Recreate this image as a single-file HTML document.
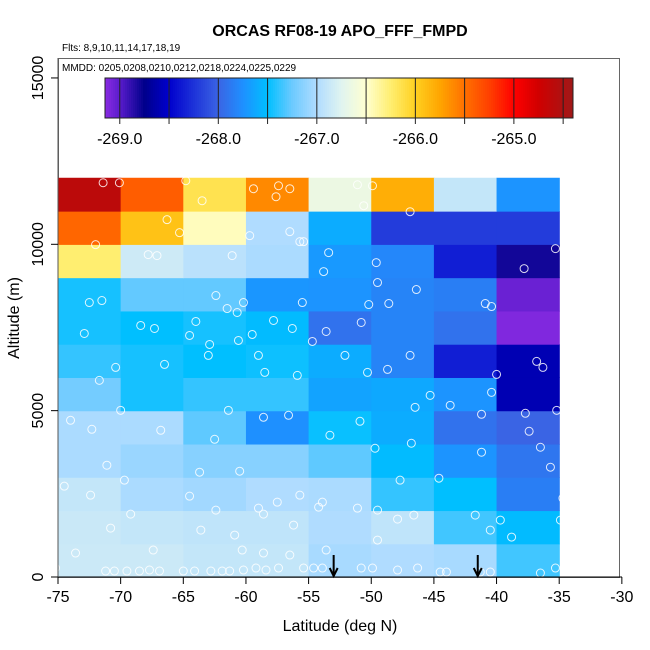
<!DOCTYPE html>
<html><head><meta charset="utf-8"><style>
html,body{margin:0;padding:0;background:#fff;}
svg{display:block;font-family:"Liberation Sans",sans-serif;}
</style></head><body>
<svg id="chart" width="650" height="650" viewBox="0 0 650 650" xmlns="http://www.w3.org/2000/svg">
<text x="340" y="36" text-anchor="middle" font-size="16" font-weight="bold">ORCAS RF08-19 APO_FFF_FMPD</text>
<text x="62" y="51" font-size="10">Flts: 8,9,10,11,14,17,18,19</text>
<rect x="58.5" y="58.5" width="561" height="519" fill="#fff" stroke="#666" stroke-width="1"/>
<g id="cells"></g>
<g id="pts"></g>
<text x="62" y="71" font-size="10">MMDD: 0205,0208,0210,0212,0218,0224,0225,0229</text>
<g id="cbar"></g>
<g id="axes"></g>
<text x="340" y="631" text-anchor="middle" font-size="16">Latitude (deg N)</text>
<text transform="translate(19,318) rotate(-90)" text-anchor="middle" font-size="16">Altitude (m)</text>
</svg>
<script>
const latEdges=[-75,-70,-65,-60,-55,-50,-45,-40,-35];
const altEdges=[0,1000,2000,3000,4000,5000,6000,7000,8000,9000,10000,11000,12000];
// rows from 0-1000m upward, 8 columns each
const cellValues=[
[-266.86,-266.86,-266.9,-266.9,-267.03,-267.0,-267.03,-267.35],
[-266.87,-266.9,-266.92,-266.92,-267.0,-266.92,-267.35,-267.52],
[-266.9,-267.02,-267.05,-267.0,-267.02,-267.38,-267.5,-267.85],
[-267.02,-267.08,-267.15,-267.15,-267.28,-267.52,-267.73,-267.9],
[-267.02,-267.02,-267.28,-267.75,-267.48,-267.6,-267.92,-268.0],
[-267.22,-267.45,-267.38,-267.38,-267.65,-267.62,-267.73,-268.6],
[-267.38,-267.45,-267.5,-267.47,-267.6,-267.82,-268.35,-268.6],
[-267.45,-267.5,-267.45,-267.52,-267.92,-267.82,-267.92,-269.12],
[-267.45,-267.27,-267.27,-267.72,-267.73,-267.82,-267.85,-269.05],
[-266.25,-266.85,-266.95,-267.02,-267.7,-267.8,-268.35,-268.8],
[-265.45,-265.92,-266.45,-267.0,-267.6,-268.2,-268.2,-268.2],
[-264.6,-265.4,-266.15,-265.62,-266.65,-265.8,-266.9,-267.73]
];
const ptLat=[-71.4,-70.1,-64.8,-63.5,-59.4,-57.4,-57.6,-56.5,-51.1,-49.9,-50.6,-46.9,-66.3,-72.0,-56.5,-55.7,-55.4,-65.3,-67.8,-67.1,-59.7,-53.8,-53.4,-49.5,-49.6,-46.4,-35.3,-37.8,-61.1,-62.4,-71.5,-72.5,-60.2,-60.7,-64.0,-67.3,-64.5,-61.5,-59.5,-55.5,-50.2,-48.6,-40.9,-40.4,-34.2,-72.9,-68.4,-57.8,-56.3,-62.9,-59.0,-60.6,-54.7,-53.6,-50.8,-48.7,-46.9,-40.0,-36.8,-36.3,-70.4,-71.7,-63.0,-66.5,-58.5,-55.9,-52.1,-50.3,-46.5,-45.3,-40.4,-37.7,-41.2,-74.0,-72.3,-70.0,-66.8,-62.5,-61.4,-58.6,-56.6,-53.3,-50.9,-49.7,-46.8,-43.7,-41.2,-36.5,-35.2,-37.4,-74.5,-71.1,-72.4,-69.7,-63.7,-60.5,-59.0,-57.5,-55.7,-53.9,-51.1,-49.5,-47.9,-47.7,-44.6,-35.7,-34.7,-73.6,-70.8,-69.2,-67.4,-64.5,-62.4,-63.6,-60.9,-58.6,-56.2,-54.2,-53.6,-49.5,-46.6,-41.7,-39.7,-40.5,-34.9,-38.8,-75.2,-71.2,-70.5,-69.5,-68.5,-67.7,-66.9,-65.0,-64.1,-62.8,-61.9,-61.3,-60.2,-59.2,-58.4,-57.4,-55.4,-54.6,-53.9,-50.8,-49.9,-47.9,-46.3,-44.5,-44.0,-41.3,-40.5,-36.5,-35.3,-58.6,-56.5,-60.3];
const ptAlt=[11850,11850,11910,11310,11670,11760,11430,11670,11790,11760,11160,10980,10740,9990,10380,10080,10080,10350,9690,9660,10260,9180,9750,8850,9450,8640,9870,9270,9660,8460,8310,8250,8250,7950,7680,7470,7260,8070,7290,8250,8190,8220,8220,8130,8220,7320,7560,7710,7470,6990,6660,7110,7080,7380,7650,6240,6660,6090,6480,6300,6300,5910,6660,6390,6150,6060,6660,6150,5100,5460,5550,4920,4890,4710,4440,5010,4410,4140,5010,4800,4860,4260,4680,3870,4020,5160,3750,3900,5010,4380,2730,3360,2460,2910,3150,3180,2070,2250,2460,2250,2070,2010,1740,2910,2970,3300,2370,720,1470,1890,810,2430,2010,1410,1260,1890,1560,2100,810,1110,1860,1860,1710,1410,1710,1200,270,180,180,180,180,210,180,180,180,180,180,180,210,270,210,270,270,270,270,270,270,210,270,150,150,150,150,120,270,720,660,810];
const arrowLats=[-53,-41.5];
const xTicks=[-75,-70,-65,-60,-55,-50,-45,-40,-35,-30];
const yTicks=[0,5000,10000,15000];
const cbTicks=[-269,-268,-267,-266,-265];
const cbLines=[-269,-268.5,-268,-267.5,-267,-266.5,-266,-265.5,-265,-264.5];
const cbMin=-269.15, cbMax=-264.4;

const xs=v=>58+(v+75)*12.53;
const ys=v=>577-v*0.03327;
const cx=v=>105+(v-cbMin)*(468/(cbMax-cbMin));
const stops=[[-269.15,'#8a2be2'],[-269.0,'#5a1ccc'],[-268.75,'#00008b'],[-268.5,'#0000cd'],[-268.0,'#3a64e4'],[-267.75,'#1e90ff'],[-267.5,'#00bfff'],[-267.25,'#6ccaff'],[-267.0,'#b0dcff'],[-266.75,'#e0f4f0'],[-266.5,'#ffffd0'],[-266.25,'#ffee70'],[-266.0,'#ffd020'],[-265.75,'#ffa500'],[-265.5,'#ff7000'],[-265.25,'#ff4000'],[-265.0,'#ff0000'],[-264.75,'#d00000'],[-264.4,'#a01818']];
function hx(c){return [1,3,5].map(i=>parseInt(c.substr(i,2),16));}
function cmap(v){
 if(v<=stops[0][0])return stops[0][1];
 for(let i=1;i<stops.length;i++){if(v<=stops[i][0]){const a=stops[i-1],b=stops[i];const t=(v-a[0])/(b[0]-a[0]);const A=hx(a[1]),B=hx(b[1]);return 'rgb('+A.map((q,k)=>Math.round(q+(B[k]-q)*t)).join(',')+')';}}
 return stops[stops.length-1][1];
}
const NS='http://www.w3.org/2000/svg';
function mk(tag,at,par){const e=document.createElementNS(NS,tag);for(const k in at)e.setAttribute(k,at[k]);par.appendChild(e);return e;}
const cells=document.getElementById('cells');
cellValues.forEach((row,j)=>row.forEach((v,i)=>{
 const x0=xs(latEdges[i]),x1=xs(latEdges[i+1]),y0=ys(altEdges[j+1]),y1=ys(altEdges[j]);
 const r=mk('rect',{x:x0,y:y0,width:x1-x0+0.6,height:y1-y0+0.6,fill:cmap(v)},cells);
 
 
}));
const pts=document.getElementById('pts');
ptLat.forEach((la,i)=>{
 const c=mk('circle',{cx:xs(la),cy:ys(ptAlt[i]),r:4,fill:'none',stroke:'#fff','stroke-opacity':0.85,'stroke-width':1},pts);
 
 
});
arrowLats.forEach(la=>{
 const g=mk('g',{stroke:'#000','stroke-width':2,fill:'none'},pts);
 
 
 mk('line',{x1:xs(la),y1:555,x2:xs(la),y2:576},g);
 mk('polyline',{points:(xs(la)-4)+',568 '+xs(la)+',576 '+(xs(la)+4)+',568'},g);
});
const cb=document.getElementById('cbar');
for(let k=0;k<234;k++){const v=cbMin+(k+0.5)*(cbMax-cbMin)/234;mk('rect',{x:105+k*2,y:78,width:2.3,height:40,fill:cmap(v)},cb);}
cbLines.forEach(v=>{mk('line',{x1:cx(v),y1:78,x2:cx(v),y2:124,stroke:'#222','stroke-width':1},cb);});
mk('rect',{x:105,y:78,width:468,height:40,fill:'none',stroke:'#222','stroke-width':1},cb);
cbTicks.forEach(v=>{const t=mk('text',{x:cx(v),y:144,'text-anchor':'middle','font-size':16},cb);t.textContent=v.toFixed(1);
 
 });
const ax=document.getElementById('axes');
mk('line',{x1:58,y1:577,x2:622,y2:577,stroke:'#000'},ax);
mk('line',{x1:58,y1:58,x2:58,y2:577,stroke:'#555'},ax);
xTicks.forEach(v=>{mk('line',{x1:xs(v),y1:577,x2:xs(v),y2:584,stroke:'#000'},ax);
 const t=mk('text',{x:xs(v),y:602,'text-anchor':'middle','font-size':16},ax);t.textContent=v;
 
 });
yTicks.forEach(v=>{mk('line',{x1:51,y1:ys(v),x2:58,y2:ys(v),stroke:'#000'},ax);
 const t=mk('text',{transform:'translate(43,'+ys(v)+') rotate(-90)','text-anchor':'middle','font-size':16},ax);t.textContent=v;
 
 });
</script>
</body></html>
